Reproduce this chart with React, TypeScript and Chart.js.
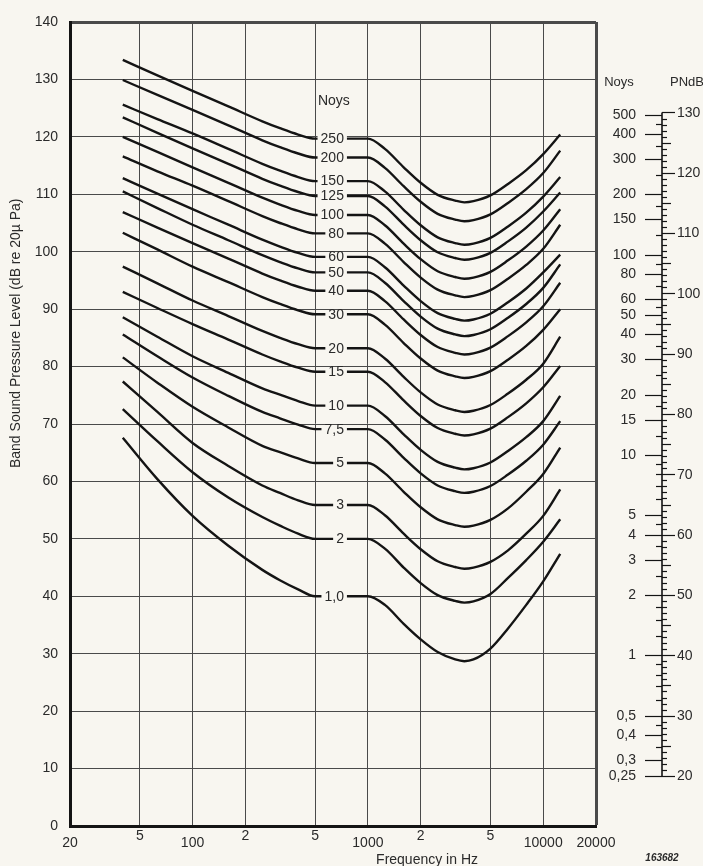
import React, { useEffect, useRef } from 'react';
import { Chart, registerables } from 'chart.js';

Chart.register(...registerables);

// ---------- data ----------
const FREQS = [40, 63, 100, 160, 250, 315, 400, 500, 1000, 1250, 1600, 2000, 2500, 3150, 3550, 4000, 5000, 6300, 8000, 10000, 12500];

const NOY_1 = [67.6, 60.4, 54.0, 48.8, 44.6, 42.8, 41.2, 40.0, 40.0, 38.5, 35.2, 32.5, 30.3, 29.0, 28.7, 29.0, 30.9, 34.4, 38.5, 42.6, 47.4];
const NOY_2 = [72.6, 67.0, 61.6, 57.2, 53.8, 52.3, 50.9, 50.0, 50.0, 48.3, 45.0, 42.3, 40.2, 39.2, 38.9, 39.1, 40.4, 43.2, 46.3, 49.5, 53.4];
const NOY_3 = [77.4, 72.1, 66.7, 62.7, 59.3, 58.0, 56.7, 55.9, 55.9, 54.1, 50.9, 48.2, 46.1, 45.1, 44.8, 45.0, 46.0, 48.0, 50.9, 54.0, 58.6];
const NOY_5 = [81.6, 77.2, 73.0, 69.4, 66.2, 65.1, 64.0, 63.2, 63.2, 61.4, 58.2, 55.5, 53.4, 52.4, 52.1, 52.3, 53.3, 55.3, 58.2, 61.3, 65.9];
const NOY_7_5 = [85.6, 81.8, 78.1, 74.9, 72.1, 71.0, 69.9, 69.1, 69.1, 67.3, 64.1, 61.4, 59.3, 58.3, 58.0, 58.2, 59.2, 61.2, 63.6, 66.4, 70.5];
const NOY_10 = [88.6, 85.2, 81.8, 78.9, 76.2, 75.1, 74.0, 73.2, 73.2, 71.4, 68.2, 65.5, 63.4, 62.4, 62.1, 62.3, 63.3, 65.3, 67.7, 70.5, 74.9];
const NOY_15 = [93.0, 90.2, 87.4, 84.7, 82.1, 80.9, 79.8, 79.1, 79.1, 77.3, 74.1, 71.4, 69.3, 68.3, 68.0, 68.2, 69.2, 71.2, 73.6, 76.4, 80.1];
const NOY_20 = [97.4, 94.5, 91.5, 88.8, 86.2, 85.0, 83.9, 83.2, 83.2, 81.4, 78.2, 75.5, 73.4, 72.4, 72.1, 72.3, 73.3, 75.3, 77.7, 80.5, 85.2];
const NOY_30 = [103.3, 100.4, 97.4, 94.7, 92.1, 90.9, 89.8, 89.1, 89.1, 87.3, 84.1, 81.4, 79.3, 78.3, 78.0, 78.2, 79.2, 81.2, 83.6, 86.4, 90.0];
const NOY_40 = [106.9, 104.2, 101.5, 98.8, 96.2, 95.0, 93.9, 93.2, 93.2, 91.4, 88.2, 85.5, 83.4, 82.4, 82.1, 82.3, 83.3, 85.3, 87.7, 90.5, 94.6];
const NOY_50 = [110.5, 107.6, 104.7, 102.0, 99.4, 98.2, 97.1, 96.4, 96.4, 94.6, 91.4, 88.7, 86.6, 85.6, 85.3, 85.5, 86.5, 88.5, 90.9, 93.7, 97.8];
const NOY_60 = [112.8, 110.1, 107.4, 104.7, 102.1, 100.9, 99.8, 99.1, 99.1, 97.3, 94.1, 91.4, 89.3, 88.3, 88.0, 88.2, 89.2, 91.2, 93.6, 96.4, 99.5];
const NOY_80 = [116.6, 114.0, 111.5, 108.8, 106.2, 105.0, 103.9, 103.2, 103.2, 101.4, 98.2, 95.5, 93.4, 92.4, 92.1, 92.3, 93.3, 95.3, 97.7, 100.5, 104.7];
const NOY_100 = [120.0, 117.4, 114.7, 112.0, 109.4, 108.2, 107.1, 106.4, 106.4, 104.6, 101.4, 98.7, 96.6, 95.6, 95.3, 95.5, 96.5, 98.5, 100.9, 103.7, 107.4];
const NOY_125 = [123.4, 120.7, 118.0, 115.3, 112.7, 111.5, 110.4, 109.7, 109.7, 107.9, 104.7, 102.0, 99.9, 98.9, 98.6, 98.8, 99.8, 101.8, 104.2, 107.0, 110.3];
const NOY_150 = [125.6, 123.1, 120.6, 117.9, 115.3, 114.1, 113.0, 112.3, 112.3, 110.5, 107.3, 104.6, 102.5, 101.5, 101.2, 101.4, 102.4, 104.4, 106.8, 109.6, 113.0];
const NOY_200 = [129.9, 127.3, 124.7, 122.0, 119.4, 118.2, 117.1, 116.4, 116.4, 114.6, 111.4, 108.7, 106.6, 105.6, 105.3, 105.5, 106.5, 108.5, 110.9, 113.7, 117.6];
const NOY_250 = [133.4, 130.7, 128.0, 125.3, 122.7, 121.5, 120.4, 119.7, 119.7, 117.9, 114.7, 112.0, 109.9, 108.9, 108.6, 108.8, 109.8, 111.8, 114.2, 117.0, 120.4];

const CURVES = [NOY_1, NOY_2, NOY_3, NOY_5, NOY_7_5, NOY_10, NOY_15, NOY_20, NOY_30, NOY_40, NOY_50, NOY_60, NOY_80, NOY_100, NOY_125, NOY_150, NOY_200, NOY_250];
const CURVE_LABELS = ['1,0', '2', '3', '5', '7,5', '10', '15', '20', '30', '40', '50', '60', '80', '100', '125', '150', '200', '250'];
const LABEL_AT_FREQ = 1000;

const X_TICKS = [20, 50, 100, 200, 500, 1000, 2000, 5000, 10000, 20000];
const X_TICK_LABELS = ['20', '5', '100', '2', '5', '1000', '2', '5', '10000', '20000'];
const X_MAJOR = [20, 100, 1000, 10000, 20000];

const Y_MIN = 0;
const Y_MAX = 140;
const Y_STEP = 10;

const PNDB_MIN = 11.7;
const PNDB_MAX = 145.0;
const PNDB_LABELS = [20, 30, 40, 50, 60, 70, 80, 90, 100, 110, 120, 130];
const NOY_TICKS = [500, 400, 300, 200, 150, 100, 80, 60, 50, 40, 30, 20, 15, 10, 5, 4, 3, 2, 1, 0.5, 0.4, 0.3, 0.25];
const NOY_TICK_LABELS = ['500', '400', '300', '200', '150', '100', '80', '60', '50', '40', '30', '20', '15', '10', '5', '4', '3', '2', '1', '0,5', '0,4', '0,3', '0,25'];
const NOY_MINOR = [450, 350, 250, 175, 125, 90, 70, 55, 45, 35, 25, 17.5, 12.5, 9, 8, 7, 6, 4.5, 3.5, 2.5, 1.75, 1.5, 1.25, 0.9, 0.8, 0.7, 0.6, 0.45, 0.35];

// ---------- style ----------
const FONT = "'Liberation Sans', Arial, Helvetica, sans-serif";
const PAPER = '#f8f6f0';
const INK = '#141414';
const TEXT = '#2a2a2a';
const GRID = '#4a4a4a';

const noyFromPndb = (p: number) => Math.pow(10, (p - 40) / 33.22);

const paperPlugin = {
  id: 'paper',
  beforeDraw(chart: any) {
    const { ctx, width, height } = chart;
    ctx.save();
    ctx.fillStyle = PAPER;
    ctx.fillRect(0, 0, width, height);
    ctx.restore();
  },
};

const labelPlugin = {
  id: 'curveLabels',
  afterDatasetsDraw(chart: any) {
    const { ctx, scales } = chart;
    const xs = scales.x;
    const ys = scales.y;
    const idx = FREQS.indexOf(LABEL_AT_FREQ);
    const lx = xs.getPixelForValue(730);
    ctx.save();
    ctx.font = `14px ${FONT}`;
    ctx.textBaseline = 'middle';
    ctx.textAlign = 'right';
    CURVES.forEach((vals, i) => {
      const y = ys.getPixelForValue(vals[idx]);
      const txt = CURVE_LABELS[i];
      const w = ctx.measureText(txt).width;
      ctx.fillStyle = PAPER;
      ctx.fillRect(lx - w - 3, y - 3, w + 6, 6);
      ctx.fillStyle = TEXT;
      ctx.fillText(txt, lx, y + 0.5);
    });
    ctx.textAlign = 'center';
    ctx.fillText('Noys', xs.getPixelForValue(640), ys.getPixelForValue(126.2));
    ctx.restore();
  },
};

const sidePlugin = {
  id: 'sideScale',
  afterDraw(chart: any) {
    const { ctx, chartArea, scales } = chart;
    const ps = scales.pndb;
    const ns = scales.noys;
    const xs = scales.x;
    const ys = scales.y;
    const sx = chartArea.right + 66;
    ctx.save();
    ctx.strokeStyle = INK;
    ctx.fillStyle = TEXT;

    // main scale line
    ctx.lineWidth = 1.6;
    ctx.beginPath();
    ctx.moveTo(sx, ps.getPixelForValue(PNDB_LABELS[PNDB_LABELS.length - 1]));
    ctx.lineTo(sx, ps.getPixelForValue(PNDB_LABELS[0]));
    ctx.stroke();

    // PNdB ticks
    ctx.lineWidth = 1.2;
    for (let p = PNDB_LABELS[0]; p <= PNDB_LABELS[PNDB_LABELS.length - 1]; p++) {
      const y = Math.round(ps.getPixelForValue(p)) + 0.5;
      const len = p % 10 === 0 ? 13 : p % 5 === 0 ? 9 : 5;
      ctx.beginPath();
      ctx.moveTo(sx, y);
      ctx.lineTo(sx + len, y);
      ctx.stroke();
    }
    ctx.font = `14px ${FONT}`;
    ctx.textBaseline = 'middle';
    ctx.textAlign = 'left';
    PNDB_LABELS.forEach((p) => {
      ctx.fillText(String(p), sx + 15, ps.getPixelForValue(p) + 0.5);
    });

    // Noys ticks
    NOY_MINOR.forEach((n) => {
      const y = Math.round(ns.getPixelForValue(n)) + 0.5;
      ctx.beginPath();
      ctx.moveTo(sx - 6, y);
      ctx.lineTo(sx, y);
      ctx.stroke();
    });
    ctx.textAlign = 'right';
    NOY_TICKS.forEach((n, i) => {
      const y = Math.round(ns.getPixelForValue(n)) + 0.5;
      ctx.beginPath();
      ctx.moveTo(sx - 17, y);
      ctx.lineTo(sx, y);
      ctx.stroke();
      ctx.fillText(NOY_TICK_LABELS[i], sx - 26, y);
    });

    // headers
    ctx.font = `13px ${FONT}`;
    ctx.textAlign = 'center';
    const hy = ps.getPixelForValue(135);
    ctx.fillText('Noys', sx - 43, hy);
    ctx.fillText('PNdB', sx + 25, hy);

    // axis titles
    ctx.font = `14px ${FONT}`;
    ctx.fillText('Frequency in Hz', xs.getPixelForValue(2175), chartArea.bottom + 34);

    ctx.save();
    ctx.translate(chartArea.left - 54, ys.getPixelForValue(85.8));
    ctx.rotate(-Math.PI / 2);
    ctx.font = `14px ${FONT}`;
    ctx.fillText('Band Sound Pressure Level (dB re 20\u00b5 Pa)', 0, 0);
    ctx.restore();

    ctx.font = `italic bold 10px ${FONT}`;
    ctx.fillText('163682', sx, chartArea.bottom + 32);
    ctx.restore();
  },
};

export default function App() {
  const ref = useRef<HTMLCanvasElement | null>(null);

  useEffect(() => {
    if (!ref.current) return;
    const datasets = CURVES.map((vals, i) => ({
      label: CURVE_LABELS[i],
      data: FREQS.map((f, j) => ({ x: f, y: vals[j] })),
      borderColor: INK,
      borderWidth: 2.4,
      pointRadius: 0,
      fill: false,
      cubicInterpolationMode: 'monotone' as const,
    }));

    const chart = new Chart(ref.current, {
      type: 'line',
      data: { datasets },
      plugins: [paperPlugin, labelPlugin, sidePlugin],
      options: {
        responsive: false,
        animation: false,
        devicePixelRatio: 1,
        layout: { padding: { left: 0, top: 22, right: 107, bottom: 0 } },
        plugins: {
          legend: { display: false },
          tooltip: { enabled: false },
          title: { display: false },
        },
        scales: {
          x: {
            type: 'logarithmic',
            min: 20,
            max: 20000,
            afterBuildTicks: (scale: any) => {
              scale.ticks = X_TICKS.map((v) => ({ value: v }));
            },
            afterFit: (scale: any) => {
              scale.height = 40;
              scale.paddingLeft = 0;
              scale.paddingRight = 0;
            },
            grid: {
              color: GRID,
              lineWidth: (c: any) => (c.tick && c.tick.value === 20000 ? 3 : 1),
              drawTicks: false,
            },
            border: { display: true, color: INK, width: 3 },
            ticks: {
              autoSkip: false,
              maxRotation: 0,
              minRotation: 0,
              padding: 3,
              color: TEXT,
              font: (c: any) => ({
                family: FONT,
                size: 14,
                lineHeight: c.tick && X_MAJOR.includes(c.tick.value) ? 2 : 1,
              }),
              callback: (value: any) => {
                const k = X_TICKS.indexOf(Number(value));
                return k >= 0 ? X_TICK_LABELS[k] : '';
              },
            },
          },
          y: {
            type: 'linear',
            min: Y_MIN,
            max: Y_MAX,
            afterFit: (scale: any) => {
              scale.width = 70;
              scale.paddingTop = 0;
              scale.paddingBottom = 0;
            },
            grid: {
              color: GRID,
              lineWidth: (c: any) => (c.tick && c.tick.value === Y_MAX ? 3 : 1),
              drawTicks: false,
            },
            border: { display: true, color: INK, width: 3 },
            ticks: {
              stepSize: Y_STEP,
              padding: 12,
              color: TEXT,
              font: { family: FONT, size: 14 },
            },
          },
          pndb: {
            type: 'linear',
            axis: 'y',
            position: 'right',
            display: false,
            min: PNDB_MIN,
            max: PNDB_MAX,
          },
          noys: {
            type: 'logarithmic',
            axis: 'y',
            position: 'right',
            display: false,
            min: noyFromPndb(PNDB_MIN),
            max: noyFromPndb(PNDB_MAX),
          },
        },
      } as any,
    });
    return () => chart.destroy();
  }, []);

  return (
    <canvas
      ref={ref}
      width={703}
      height={866}
      style={{ position: 'fixed', left: 0, top: 0, width: 703, height: 866 }}
    />
  );
}
